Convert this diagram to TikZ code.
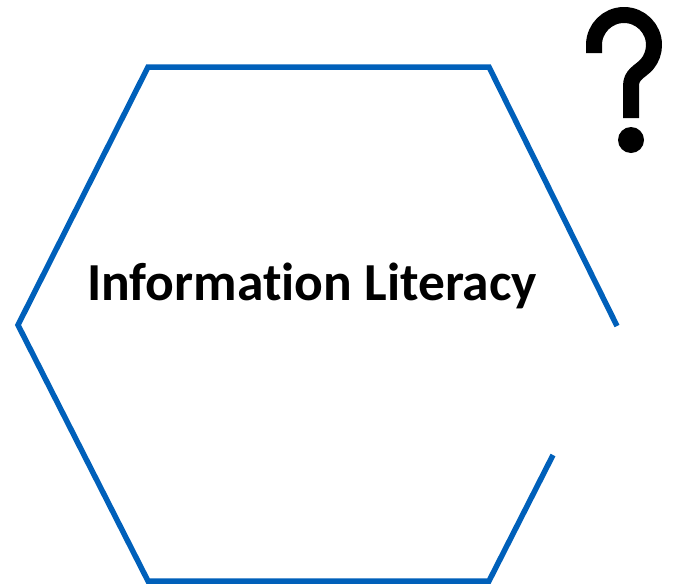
\documentclass[tikz,border=0pt]{standalone}
\usepackage{fontspec}
\setmainfont{Carlito}[RawFeature={-liga}]
\definecolor{hexblue}{RGB}{0,96,186}
\begin{document}
\begin{tikzpicture}[x=1pt,y=-1pt,
  hexline/.style={draw=hexblue,line width=5.5pt,line join=miter},
  qmark/.style={draw=black,line width=16pt,line cap=butt,line join=round}]
\useasboundingbox (0,0) rectangle (677,587);
\coordinate (gapA) at (617,326);
\coordinate (gapB) at (553,455);
\draw[hexline] (gapB) -- (489,581) -- (148,581) -- (18,325) -- (148,67) -- (489,67) -- (gapA);
\node[font=\bfseries\fontsize{53.5}{60}\selectfont, anchor=base] (title) at (312,300) {Information Literacy};
% question mark
\draw[qmark] (594,53) -- (594,45) arc[start angle=180,end angle=400,radius=30]
  .. controls (640,72) and (631,74) .. (631,86) -- (631,118);
\fill (631,140) circle[radius=13];
\end{tikzpicture}
\end{document}
